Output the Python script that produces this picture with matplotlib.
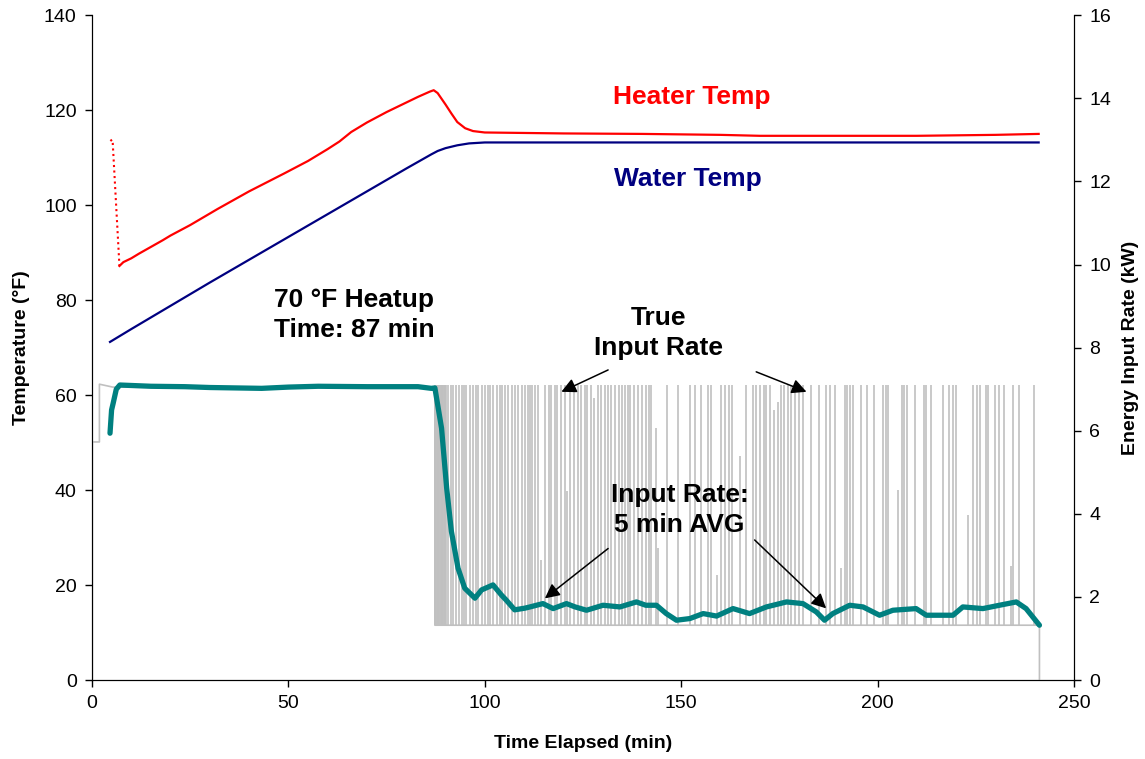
import matplotlib
matplotlib.use("Agg")
import matplotlib.pyplot as plt
import numpy as np

plt.rcParams['font.family'] = ['Liberation Sans', 'DejaVu Sans']

# heater temperature (F); first part is the dotted drop at startup
heater_drop_t = [4.7, 5.1, 5.3, 7.0]
heater_drop_f = [113.5, 113.8, 113.0, 87.2]
heater_t = [7.0, 8, 10, 12, 15, 18, 20, 25, 32, 40, 49, 55, 60, 63, 66, 70, 75, 80, 83, 86, 87,
            88, 90, 91.5, 93, 95, 97, 100, 110, 120, 140, 160, 170, 190, 210, 230, 241]
heater_f = [87.2, 88.0, 88.8, 89.8, 91.2, 92.6, 93.6, 95.8, 99.2, 102.9, 106.7, 109.3, 111.8, 113.4,
            115.4, 117.4, 119.6, 121.6, 122.8, 123.9, 124.2, 123.6, 121.2, 119.3, 117.5, 116.2,
            115.6, 115.3, 115.2, 115.1, 115.0, 114.8, 114.6, 114.6, 114.6, 114.8, 115.0]

# water temperature (F)
water_t = [4.6, 10, 20, 30, 40, 50, 60, 70, 80, 86.4, 88, 90, 93, 96, 100, 241]
water_f = [71.2, 73.9, 78.8, 83.7, 88.5, 93.3, 98.1, 102.9, 107.7, 110.7, 111.4, 112.0, 112.6,
           113.0, 113.2, 113.2]

# 5 min average input rate (kW)
avg_t = [4.6, 5.0, 5.4, 6.2, 7.1, 15, 23.7, 30, 43.2, 50, 57.6, 70, 83, 86.4, 87.3, 89.0, 90.3,
         91.5, 93.2, 94.9, 97.5, 99.2, 102.1, 104.2, 105.5, 107.6, 110.2, 111.5, 114.8, 117.4,
         120.8, 123, 125.9, 130.1, 134.4, 138.6, 141, 143.7, 146.2, 148.8, 152.2, 155.6, 159,
         163.2, 167.4, 171.7, 176.8, 181, 184.4, 186.5, 188.6, 192.9, 196.3, 200.5, 203.9, 209.8,
         212.4, 219.2, 221.7, 226.8, 231, 235.3, 237.8, 239.5, 241.2]
avg_kw = [5.94, 6.5, 6.66, 7.0, 7.1, 7.07, 7.06, 7.04, 7.02, 7.05, 7.07, 7.06, 7.06, 7.02, 7.03,
          6.06, 4.62, 3.58, 2.69, 2.21, 1.97, 2.17, 2.29, 2.05, 1.92, 1.69, 1.73, 1.76, 1.84, 1.72,
          1.84, 1.76, 1.68, 1.80, 1.76, 1.88, 1.80, 1.80, 1.60, 1.44, 1.48, 1.60, 1.54, 1.72,
          1.60, 1.76, 1.88, 1.84, 1.64, 1.44, 1.60, 1.80, 1.76, 1.56, 1.68, 1.72, 1.56, 1.56,
          1.76, 1.72, 1.80, 1.88, 1.72, 1.52, 1.32]

# true input rate (kW): outline between spikes, then on/off spikes
true_t = [0.1, 0.1, 1.9, 1.9, 5.3, 7.0, 87.3, 87.3, 241.2, 241.2]
true_kw = [0.0, 5.73, 5.73, 7.12, 7.05, 7.05, 7.05, 1.32, 1.32, 0.0]
base_kw = 1.32
on_kw = 7.1
spike_t = [87.4, 87.6, 87.8, 88.0, 88.2, 88.4, 88.6, 88.8, 89.0, 89.2, 89.4, 89.6, 89.8, 90.0, 90.2,
           90.7, 91.3, 91.9, 92.8, 93.4, 94.1, 94.7, 95.3, 96.2, 97.0, 97.7, 98.3, 99.2, 100.0,
           100.7, 101.3, 102.1, 103.0, 103.8, 104.4, 105.1, 105.9, 106.9, 107.6, 108.5, 109.5,
           110.2, 111.0, 111.5, 112.0, 112.7, 113.6, 115.3, 116.3, 116.8, 117.8, 118.5, 119.5,
           120.4, 121.6, 122.7, 123.7, 124.4, 125.4, 126.1, 127.1, 128.8, 129.7, 130.5, 131.4,
           132.2, 133.1, 134.1, 134.9, 135.6, 136.5, 136.9, 138.0, 139.0, 140.0, 141.1, 141.7,
           142.2, 146.5, 149.2, 152.2, 153.4, 155.1, 156.7, 157.7, 160.2, 161.1, 162.1, 162.9,
           166.6, 168.3, 169.1, 170.0, 171.1, 171.7, 172.5, 175.5, 176.2, 177.2, 178.0, 178.9,
           179.9, 181.0, 183.1, 185.0, 186.9, 188.0, 189.1, 191.6, 192.3, 193.1, 193.7, 195.9,
           197.4, 199.1, 201.4, 202.2, 202.6, 206.2, 206.7, 207.6, 209.6, 211.8, 212.4, 213.7,
           216.6, 218.3, 219.2, 220.0, 224.3, 225.4, 226.0, 227.7, 228.1, 229.8, 231.0, 232.3,
           234.4, 235.9, 239.8]
partial_t = [114.4, 121.0, 127.8, 143.7, 144.1, 159.2, 164.9, 173.6, 174.6, 190.8, 205.2, 223.0, 234.0]
partial_kw = [2.9, 4.54, 6.79, 6.06, 3.18, 2.53, 5.4, 6.5, 6.7, 2.7, 4.58, 3.98, 2.75]

fig = plt.figure(figsize=(11.45, 7.59), dpi=100)
ax = fig.add_axes([0.0803, 0.104, 0.8577, 0.876])
ax2 = ax.twinx()

gray = '#C0C0C0'
ax2.plot(true_t, true_kw, color=gray, lw=1.2, zorder=1)
ax2.vlines(spike_t, base_kw, on_kw, color=gray, lw=1.2, zorder=1)
ax2.vlines(partial_t, base_kw, partial_kw, color=gray, lw=1.2, zorder=1)
ax2.plot(avg_t, avg_kw, color='#008080', lw=3.8, solid_capstyle='round', zorder=3)

ax.plot(heater_drop_t, heater_drop_f, color='#FF0000', lw=1.5, ls=':')
ax.plot(heater_t, heater_f, color='#FF0000', lw=1.6)
ax.plot(water_t, water_f, color='#000080', lw=1.6)

ax.set_xlim(0, 250)
ax.set_ylim(0, 140)
ax2.set_ylim(0, 16)
ax.set_xticks(np.arange(0, 251, 50))
ax.set_yticks(np.arange(0, 141, 20))
ax2.set_yticks(np.arange(0, 17, 2))

for a in (ax, ax2):
    a.spines['top'].set_visible(False)
    a.tick_params(labelsize=14, length=5, width=1, direction='out', pad=6)
ax.set_xlabel('Time Elapsed (min)', fontsize=14, fontweight='bold', labelpad=16)
ax.set_ylabel('Temperature (°F)', fontsize=14, fontweight='bold', labelpad=10)
ax2.set_ylabel('Energy Input Rate (kW)', fontsize=14, fontweight='bold', labelpad=8)

tk = dict(fontsize=19, fontweight='bold', ha='center', va='center', transform=ax.transData,
          linespacing=1.3)
ax2.text(152.7, 122.7, 'Heater Temp', color='#FF0000', **tk)
ax2.text(151.7, 105.5, 'Water Temp', color='#000080', **tk)
ax2.text(66.7, 76.8, '70 °F Heatup\nTime: 87 min', color='black', **tk)
ax2.text(144.3, 73.1, 'True\nInput Rate', color='black', **tk)
ax2.text(149.6, 35.8, 'Input Rate:\n5 min AVG', color='black', **tk)

arrows = [((131.4, 65.3), (119.5, 60.7)),
          ((169.1, 64.9), (181.9, 60.7)),
          ((131.4, 27.7), (115.3, 17.2)),
          ((168.7, 29.5), (186.9, 15.1))]
for tail, tip in arrows:
    ax2.annotate('', xy=tip, xytext=tail, xycoords=ax.transData, textcoords=ax.transData,
                 arrowprops=dict(arrowstyle='-|>', color='black', lw=1.1, mutation_scale=22,
                                 shrinkA=0, shrinkB=0))

fig.savefig('out.png', dpi=100)
